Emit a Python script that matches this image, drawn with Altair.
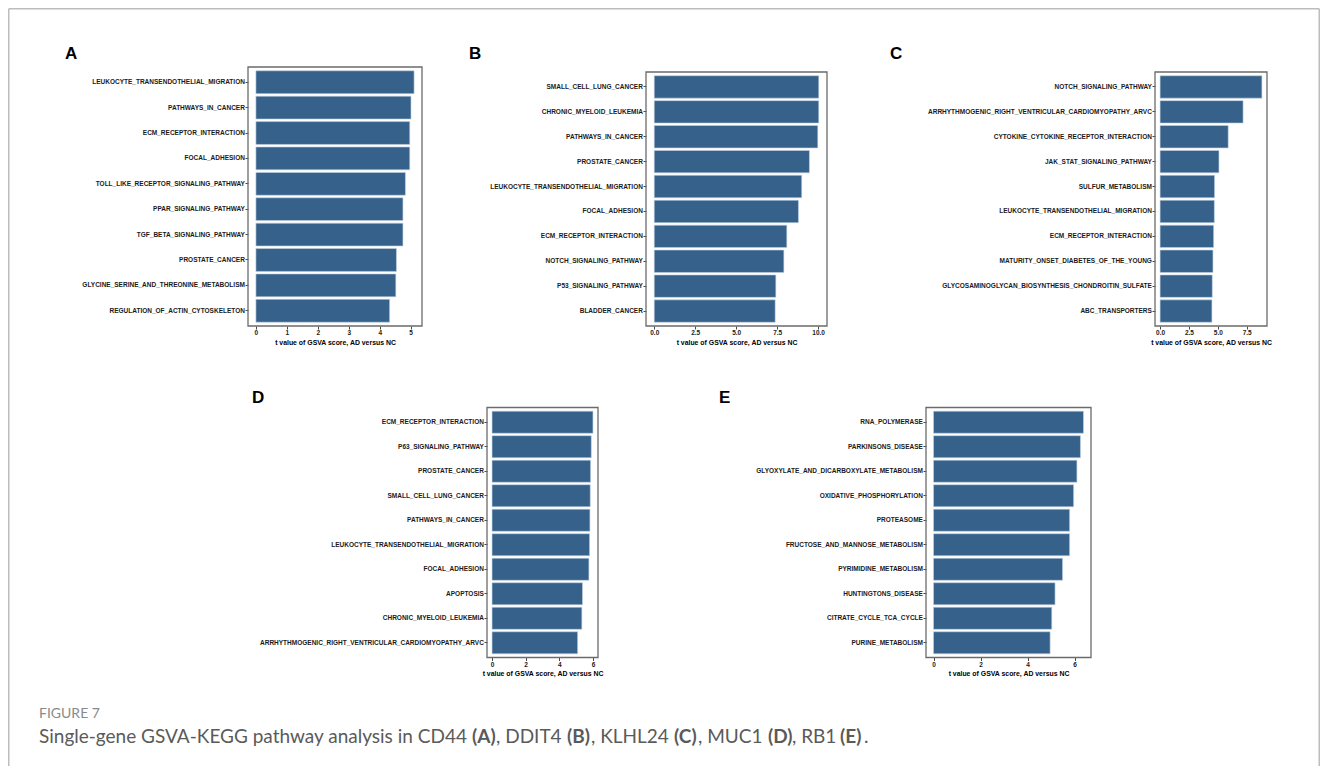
import altair as alt
import pandas as pd

# ---------------- data ----------------
pathways_A = ["LEUKOCYTE_TRANSENDOTHELIAL_MIGRATION", "PATHWAYS_IN_CANCER", "ECM_RECEPTOR_INTERACTION",
              "FOCAL_ADHESION", "TOLL_LIKE_RECEPTOR_SIGNALING_PATHWAY", "PPAR_SIGNALING_PATHWAY",
              "TGF_BETA_SIGNALING_PATHWAY", "PROSTATE_CANCER", "GLYCINE_SERINE_AND_THREONINE_METABOLISM",
              "REGULATION_OF_ACTIN_CYTOSKELETON"]
values_A = [5.11, 5.01, 4.97, 4.97, 4.83, 4.75, 4.75, 4.54, 4.52, 4.32]

pathways_B = ["SMALL_CELL_LUNG_CANCER", "CHRONIC_MYELOID_LEUKEMIA", "PATHWAYS_IN_CANCER", "PROSTATE_CANCER",
              "LEUKOCYTE_TRANSENDOTHELIAL_MIGRATION", "FOCAL_ADHESION", "ECM_RECEPTOR_INTERACTION",
              "NOTCH_SIGNALING_PATHWAY", "P53_SIGNALING_PATHWAY", "BLADDER_CANCER"]
values_B = [10.04, 10.04, 9.98, 9.47, 9.00, 8.80, 8.09, 7.91, 7.42, 7.38]

pathways_C = ["NOTCH_SIGNALING_PATHWAY", "ARRHYTHMOGENIC_RIGHT_VENTRICULAR_CARDIOMYOPATHY_ARVC",
              "CYTOKINE_CYTOKINE_RECEPTOR_INTERACTION", "JAK_STAT_SIGNALING_PATHWAY", "SULFUR_METABOLISM",
              "LEUKOCYTE_TRANSENDOTHELIAL_MIGRATION", "ECM_RECEPTOR_INTERACTION",
              "MATURITY_ONSET_DIABETES_OF_THE_YOUNG", "GLYCOSAMINOGLYCAN_BIOSYNTHESIS_CHONDROITIN_SULFATE",
              "ABC_TRANSPORTERS"]
values_C = [8.82, 7.19, 5.90, 5.10, 4.72, 4.70, 4.64, 4.58, 4.52, 4.49]

pathways_D = ["ECM_RECEPTOR_INTERACTION", "P63_SIGNALING_PATHWAY", "PROSTATE_CANCER", "SMALL_CELL_LUNG_CANCER",
              "PATHWAYS_IN_CANCER", "LEUKOCYTE_TRANSENDOTHELIAL_MIGRATION", "FOCAL_ADHESION", "APOPTOSIS",
              "CHRONIC_MYELOID_LEUKEMIA", "ARRHYTHMOGENIC_RIGHT_VENTRICULAR_CARDIOMYOPATHY_ARVC"]
values_D = [6.00, 5.90, 5.86, 5.84, 5.82, 5.80, 5.76, 5.38, 5.34, 5.09]

pathways_E = ["RNA_POLYMERASE", "PARKINSONS_DISEASE", "GLYOXYLATE_AND_DICARBOXYLATE_METABOLISM",
              "OXIDATIVE_PHOSPHORYLATION", "PROTEASOME", "FRUCTOSE_AND_MANNOSE_METABOLISM",
              "PYRIMIDINE_METABOLISM", "HUNTINGTONS_DISEASE", "CITRATE_CYCLE_TCA_CYCLE", "PURINE_METABOLISM"]
values_E = [6.38, 6.25, 6.10, 5.96, 5.79, 5.79, 5.49, 5.17, 5.03, 4.96]

ticks_A = [0, 1, 2, 3, 4, 5]
ticks_B = [0, 2.5, 5, 7.5, 10]
ticks_C = [0, 2.5, 5, 7.5]
ticks_D = [0, 2, 4, 6]
ticks_E = [0, 2, 4, 6]

panel_letters = ["A", "B", "C", "D", "E"]
x_title = "t value of GSVA score, AD versus NC"
figure_label = "FIGURE 7"
caption_parts = [
    ("Single-gene GSVA-KEGG pathway analysis in CD44 ", "normal"),
    ("(A)", "bold"), (", DDIT4 ", "normal"), ("(B)", "bold"), (", KLHL24 ", "normal"),
    ("(C)", "bold"), (", MUC1 ", "normal"), ("(D)", "bold"), (", RB1 ", "normal"),
    ("(E)", "bold"), (".", "normal"),
]

# ---------------- layout (page pixels; view origin is page (8, 8)) ----------------
PAGE = 8
W, H = 1312, 758
# plot-area boxes of the five panels: x0, x1, y0, y1
boxes = {
    "A": (248, 422, 67, 326),
    "B": (646, 827, 72, 326),
    "C": (1155, 1267, 72, 326),
    "D": (487, 598, 407.5, 657.5),
    "E": (926, 1091, 407.5, 657.5),
}
letter_pos = {"A": (65, 59), "B": (469, 59), "C": (890, 59), "D": (252, 403), "E": (719, 403)}
caption_x = [39, 472, 496, 567, 591, 674, 698, 768, 792, 840, 864]

# ---------------- style ----------------
BAR = "#35618A"
EDGE = "#c5d3e2"
BORDER = "#6b6b6b"
FRAME = "#bdbdbd"
FONT = "Liberation Sans"
CAP_FONT = "Lato"

one = pd.DataFrame({"a": [0]})


def text_layer(txt, x, y, size, weight, color, font):
    return alt.Chart(pd.DataFrame({"s": [txt]})).mark_text(
        align="left", baseline="alphabetic", font=font, fontSize=size,
        fontWeight=weight, color=color
    ).encode(text="s:N", x=alt.value(x - PAGE), y=alt.value(y - PAGE))


def bar_layer(names, vals, ticks, fmt, box):
    x0, x1, y0, y1 = [v - PAGE for v in box]
    df = pd.DataFrame({"pathway": names, "t": vals})
    vmax = max(vals)
    return alt.Chart(df).mark_bar(color=BAR, stroke=EDGE, strokeWidth=0.6).encode(
        x=alt.X("t:Q",
                scale=alt.Scale(domain=[-0.05 * vmax, 1.05 * vmax], nice=False, zero=False,
                                range=[x0, x1]),
                axis=alt.Axis(values=ticks, format=fmt, title=x_title, grid=False,
                              orient="bottom", offset=y1 - H)),
        y=alt.Y("pathway:N", sort=names, title=None,
                scale=alt.Scale(paddingInner=0.1, paddingOuter=0.15, range=[y0, y1]),
                axis=alt.Axis(grid=False, labelLimit=500, orient="left", offset=-x0)),
    )


def border_layer(box):
    x0, x1, y0, y1 = [v - PAGE for v in box]
    return alt.Chart(one).mark_rect(fillOpacity=0, stroke=BORDER, strokeWidth=1.3).encode(
        x=alt.value(x0), x2=alt.value(x1), y=alt.value(y0), y2=alt.value(y1))


panel_data = {
    "A": (pathways_A, values_A, ticks_A, "d"),
    "B": (pathways_B, values_B, ticks_B, ".1f"),
    "C": (pathways_C, values_C, ticks_C, ".1f"),
    "D": (pathways_D, values_D, ticks_D, "d"),
    "E": (pathways_E, values_E, ticks_E, "d"),
}

layers = []
for key in panel_letters:
    names, vals, ticks, fmt = panel_data[key]
    layers.append(bar_layer(names, vals, ticks, fmt, boxes[key]))
for key in panel_letters:
    layers.append(border_layer(boxes[key]))
    lx, ly = letter_pos[key]
    layers.append(text_layer(key, lx, ly, 17, "bold", "#000000", FONT))

# outer figure frame (left, top, right)
layers += [
    alt.Chart(one).mark_rule(color=FRAME, strokeWidth=1.5).encode(
        x=alt.value(0.75), y=alt.value(0.75), y2=alt.value(H)),
    alt.Chart(one).mark_rule(color=FRAME, strokeWidth=1.5).encode(
        x=alt.value(0.75), x2=alt.value(W - 0.75), y=alt.value(0.75)),
    alt.Chart(one).mark_rule(color=FRAME, strokeWidth=1.5).encode(
        x=alt.value(W - 0.75), y=alt.value(0.75), y2=alt.value(H)),
]

# caption
layers.append(text_layer(figure_label, 39, 718, 14, "normal", "#8a8a8a", CAP_FONT))
for (txt, w), px in zip(caption_parts, caption_x):
    layers.append(text_layer(txt, px, 743, 19, w, "#5a5a5a", CAP_FONT))

chart = alt.layer(*layers).resolve_scale(
    x="independent", y="independent"
).resolve_axis(
    x="independent", y="independent"
).properties(
    width=W, height=H, padding=0, background="white",
    autosize=alt.AutoSizeParams(type="none"),
).configure_view(
    stroke="transparent"
).configure_axis(
    labelFont=FONT, labelFontSize=6.5, labelFontWeight="bold", labelColor="#1a1a1a",
    titleFont=FONT, titleFontSize=6.9, titleFontWeight="bold", titleColor="#000000",
    tickColor="#333333", tickWidth=0.9, tickSize=3, domain=False, labelPadding=0.6,
    titlePadding=3
)

chart.save("out.html", embed_options={"renderer": "svg", "actions": False})
